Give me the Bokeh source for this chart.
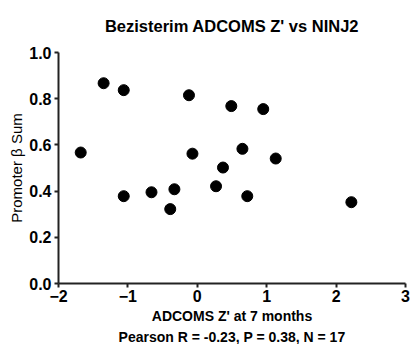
from bokeh.plotting import figure
from bokeh.models import Range1d, Title, FixedTicker, ColumnDataSource, CustomJSTickFormatter
from bokeh.embed import file_html
from bokeh.resources import INLINE

adcoms_z = [-1.68, -1.35, -1.06, -0.12, 0.49, 0.95, -1.06, -0.66, -0.33, -0.39,
            -0.07, 0.27, 0.37, 0.65, 0.72, 1.13, 2.22]
promoter_beta_sum = [0.567, 0.867, 0.837, 0.815, 0.768, 0.755, 0.378, 0.395, 0.408, 0.322,
                     0.562, 0.421, 0.502, 0.583, 0.378, 0.541, 0.352]
x_ticks = [-2, -1, 0, 1, 2, 3]
y_ticks = [0.0, 0.2, 0.4, 0.6, 0.8, 1.0]
title_text = "Bezisterim ADCOMS Z' vs NINJ2"
x_label = "ADCOMS Z' at 7 months"
stats_label = "Pearson R = -0.23, P = 0.38, N = 17"
y_label = "Promoter \u03b2 Sum"

FONT = "Liberation Sans"

p = figure(width=413, height=344, output_backend="svg", toolbar_location=None,
           x_range=Range1d(-2, 3), y_range=Range1d(0, 1),
           min_border_left=58, min_border_right=8, min_border_top=52, min_border_bottom=10)

p.title.text = title_text
p.title.align = "center"
p.title.vertical_align = "top"
p.title.text_font = FONT
p.title.text_font_size = "16.5px"
p.title.text_font_style = "bold"
p.title.text_color = "black"
p.title.standoff = 32

p.outline_line_color = None
p.grid.grid_line_color = None
p.background_fill_color = "white"
p.border_fill_color = "white"

for ax in (p.xaxis[0], p.yaxis[0]):
    ax.axis_line_width = 2
    ax.axis_line_color = "#222222"
    ax.major_tick_line_color = "#222222"
    ax.major_tick_line_width = 2
    ax.major_tick_in = 0
    ax.major_tick_out = 4
    ax.minor_tick_line_color = None
    ax.major_label_text_font = FONT
    ax.major_label_text_font_size = "16px"
    ax.major_label_text_font_style = "bold"
    ax.major_label_text_color = "black"
    ax.axis_label_text_color = "black"
    ax.axis_label_text_font = FONT

p.xaxis[0].ticker = FixedTicker(ticks=x_ticks)
p.yaxis[0].ticker = FixedTicker(ticks=y_ticks)
p.yaxis[0].formatter = CustomJSTickFormatter(code="return tick.toFixed(1);")
p.xaxis[0].major_label_standoff = 2
p.yaxis[0].major_label_standoff = 3

p.xaxis[0].axis_label = x_label
p.xaxis[0].axis_label_text_font_size = "14px"
p.xaxis[0].axis_label_text_font_style = "bold"
p.xaxis[0].axis_label_standoff = 3

p.yaxis[0].axis_label = y_label
p.yaxis[0].axis_label_text_font_size = "15px"
p.yaxis[0].axis_label_text_font_style = "normal"
p.yaxis[0].axis_label_standoff = 1

stats = Title(text=stats_label, align="center", text_font=FONT, text_font_size="14px",
              text_font_style="bold", text_color="black", standoff=0)
p.add_layout(stats, "below")

src = ColumnDataSource(dict(x=adcoms_z, y=promoter_beta_sum))
p.scatter("x", "y", source=src, size=11, fill_color="black", line_color="black")

open("out.html", "w").write(file_html(p, INLINE))
